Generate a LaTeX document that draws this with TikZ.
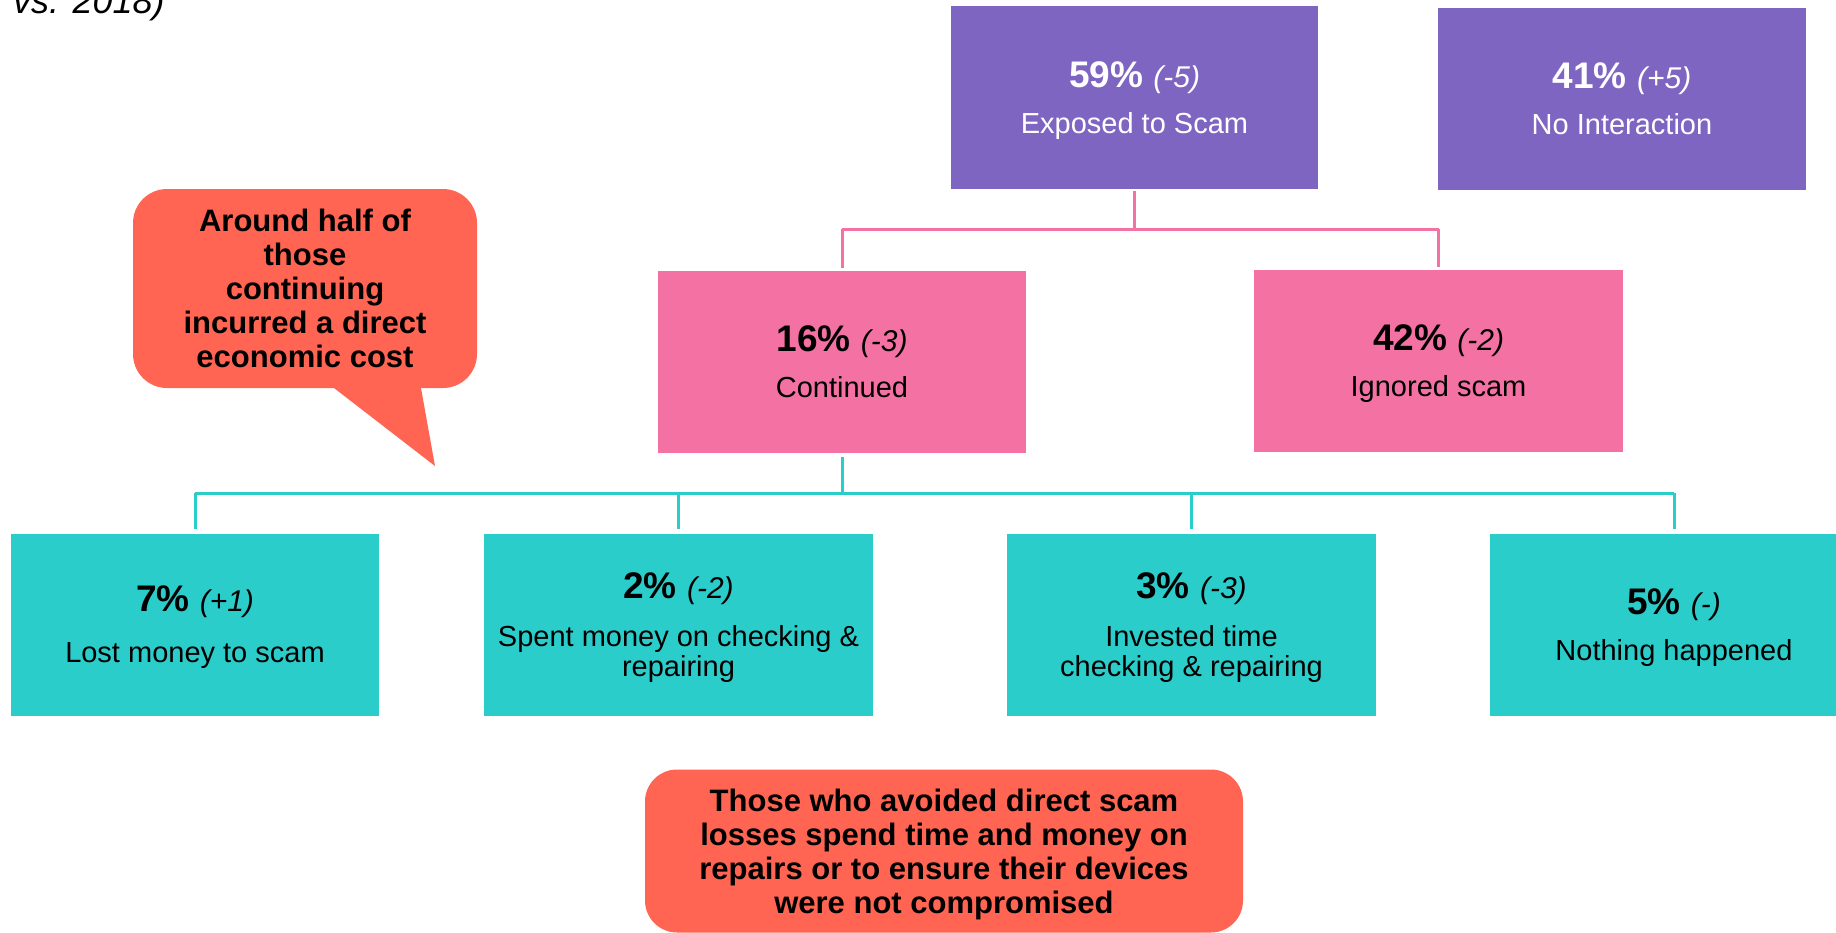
\documentclass[tikz,border=0pt]{standalone}
\usepackage{fontspec}
\setmainfont{Liberation Sans}
\definecolor{cpurple}{RGB}{126,101,193}
\definecolor{cpink}{RGB}{243,114,163}
\definecolor{cteal}{RGB}{43,205,203}
\definecolor{ccoral}{RGB}{255,101,82}
\newcommand\pctline[2]{{\fontsize{37}{37}\selectfont\bfseries #1\ }{\fontsize{30}{30}\selectfont\itshape #2}}
\begin{document}
\begin{tikzpicture}[x=1pt,y=-1pt,
  box/.style={rectangle, inner sep=0pt, minimum height=182pt, align=center,
    text depth=0pt, font=\fontsize{29}{30}\selectfont},
  purplebox/.style={box, fill=cpurple, text=white},
  pinkbox/.style={box, fill=cpink, text=black},
  tealbox/.style={box, fill=cteal, text=black},
  callout/.style={fill=ccoral, rounded corners=34pt, inner sep=0pt, align=center,
    font=\fontsize{31}{34}\selectfont\bfseries},
  pinkline/.style={draw=cpink, line width=3pt},
  tealline/.style={draw=cteal, line width=3pt}]
\useasboundingbox (0,0) rectangle (1836,932);

\node[anchor=base west, font=\fontsize{36}{36}\selectfont\itshape, inner sep=0pt] (hdr) at (13,13) {vs. 2018)};

% top row
\node[purplebox, minimum width=367pt, minimum height=183pt] (exp) at (1134.5,97.5)
  {\pctline{59\%}{(-5)}\\[16pt] Exposed to Scam};
\node[purplebox, minimum width=368pt] (noi) at (1622,99)
  {\pctline{41\%}{(+5)}\\[16pt] No Interaction};

% middle row
\node[pinkbox, minimum width=368pt] (cont) at (842,362)
  {\pctline{16\%}{(-3)}\\[16pt] Continued};
\node[pinkbox, minimum width=369pt] (ign) at (1438.5,361)
  {\pctline{42\%}{(-2)}\\[16pt] Ignored scam};

% bottom row
\node[tealbox, minimum width=368pt] (lost) at (195,624.5)
  {\pctline{7\%}{(+1)}\\[21pt] Lost money to scam};
\node[tealbox, minimum width=389pt] (spent) at (678.5,624.5)
  {\pctline{2\%}{(-2)}\\[18pt] Spent money on checking \&\\ repairing};
\node[tealbox, minimum width=369pt] (inv) at (1191.5,624.5)
  {\pctline{3\%}{(-3)}\\[18pt] Invested time\\ checking \& repairing};
\node[tealbox, minimum width=368pt] (noth) at (1674,624.5)
  {\pctline{5\%}{(-)}\\[16pt] Nothing happened};

% connectors
\coordinate (pj) at (1134.5,229);
\draw[pinkline, shorten <=1.5pt] (exp.south) -- (pj);
\draw[pinkline] (pj -| cont.north) -- (pj -| ign.north);
\draw[pinkline, shorten >=3pt] (pj -| cont.north) -- (cont.north);
\draw[pinkline, shorten >=3pt] (pj -| ign.north) -- (ign.north);

\coordinate (tj) at (842,493);
\draw[tealline, shorten <=4pt] (cont.south) -- (tj);
\draw[tealline] (tj -| lost.north) -- (tj -| noth.north);
\draw[tealline, shorten >=4pt] (tj -| lost.north) -- (lost.north);
\draw[tealline, shorten >=4pt] (tj -| spent.north) -- (spent.north);
\draw[tealline, shorten >=4pt] (tj -| inv.north) -- (inv.north);
\draw[tealline, shorten >=4pt] (tj -| noth.north) -- (noth.north);

% callout 1 with pointer
\fill[ccoral] (321,378) -- (419.2,378) -- (435,466) -- cycle;
\node[callout, minimum width=344pt, minimum height=199pt] (call1) at (305,288.5)
  {Around half of\\ those\\ continuing\\ incurred a direct\\ economic cost};

% callout 2
\node[callout, rounded corners=32pt, text depth=0pt, minimum width=598pt, minimum height=163pt] (call2) at (944,851)
  {Those who avoided direct scam\\ losses spend time and money on\\ repairs or to ensure their devices\\ were not compromised};
\end{tikzpicture}
\end{document}
